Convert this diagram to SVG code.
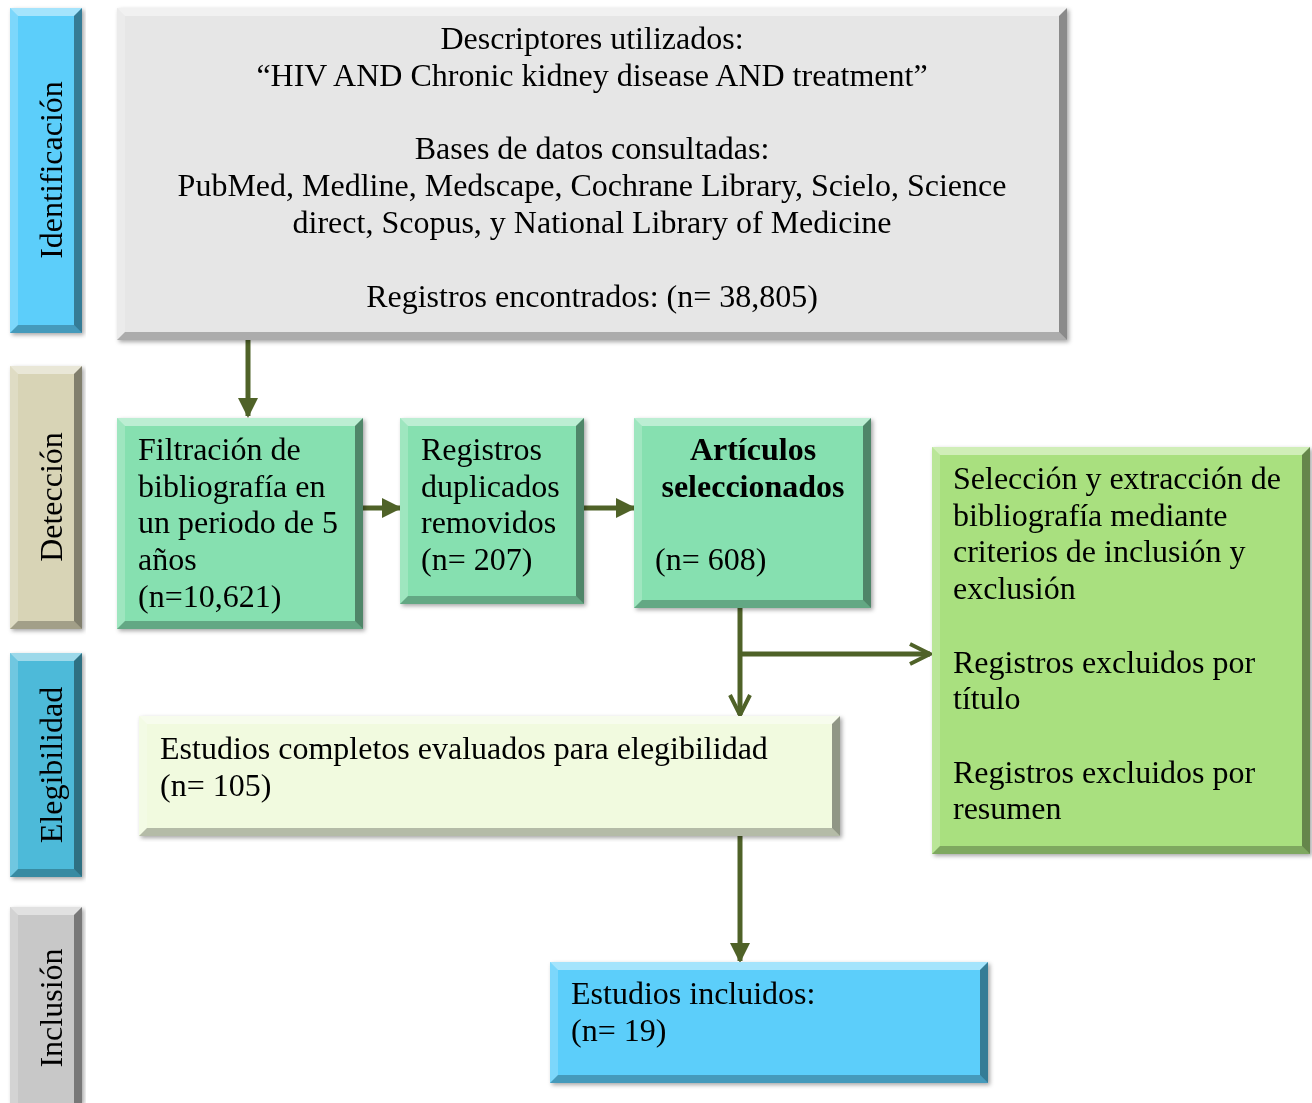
<svg xmlns="http://www.w3.org/2000/svg" width="1312" height="1103" viewBox="0 0 1312 1103">
<defs>
<filter id="sh" x="-5%" y="-5%" width="110%" height="110%"><feDropShadow dx="2" dy="2" stdDeviation="2" flood-color="#000" flood-opacity="0.35"/></filter>
<marker id="ah" viewBox="0 0 10 10" refX="9" refY="5" markerWidth="4" markerHeight="4" orient="auto" markerUnits="strokeWidth"><path d="M0,0 L10,5 L0,10 Z" fill="#4F6228"/></marker>
<marker id="oh" viewBox="0 0 10 10" refX="9" refY="5" markerWidth="5" markerHeight="5" orient="auto" markerUnits="strokeWidth"><path d="M1,1 L9,5 L1,9" fill="none" stroke="#4F6228" stroke-width="1.6"/></marker>
</defs>
<style>
text{font-family:"Liberation Serif","Times New Roman",serif;font-size:32px;fill:#000}
.c{text-anchor:middle}
.b{font-weight:bold}
.hl{fill:#fff;opacity:.45}
.ll{fill:#fff;opacity:.2}
.rd{fill:#000;opacity:.4}
.bd{fill:#000;opacity:.25}
.cn{fill:none;stroke:#4F6228;stroke-width:5}
</style>
<rect width="1312" height="1103" fill="#fff"/>

<g id="side-identificacion" filter="url(#sh)">
<rect x="10" y="8" width="72" height="325" fill="#5BCEFA"/>
<polygon class="hl" points="10,8 82,8 74,16 18,16"/><polygon class="ll" points="10,8 18,16 18,325 10,333"/><polygon class="rd" points="82,8 82,333 74,325 74,16"/><polygon class="bd" points="10,333 18,325 74,325 82,333"/>
<text class="c" transform="translate(62,170) rotate(-90)">Identificación</text>
</g>
<g id="side-deteccion" filter="url(#sh)">
<rect x="10" y="366" width="72" height="263" fill="#D8D4B6"/>
<polygon class="hl" points="10,366 82,366 74,374 18,374"/><polygon class="ll" points="10,366 18,374 18,621 10,629"/><polygon class="rd" points="82,366 82,629 74,621 74,374"/><polygon class="bd" points="10,629 18,621 74,621 82,629"/>
<text class="c" transform="translate(62,497) rotate(-90)">Detección</text>
</g>
<g id="side-elegibilidad" filter="url(#sh)">
<rect x="10" y="653" width="72" height="224" fill="#4DBAD9"/>
<polygon class="hl" points="10,653 82,653 74,661 18,661"/><polygon class="ll" points="10,653 18,661 18,869 10,877"/><polygon class="rd" points="82,653 82,877 74,869 74,661"/><polygon class="bd" points="10,877 18,869 74,869 82,877"/>
<text class="c" transform="translate(62,765) rotate(-90)">Elegibilidad</text>
</g>
<g id="side-inclusion" filter="url(#sh)">
<rect x="10" y="907" width="72" height="196" fill="#C8C8C8"/>
<polygon class="hl" points="10,907 82,907 74,915 18,915"/><polygon class="ll" points="10,907 18,915 18,1103 10,1103"/><polygon class="rd" points="82,907 82,1103 74,1103 74,915"/>
<text class="c" transform="translate(62,1008) rotate(-90)">Inclusión</text>
</g>

<g id="connectors">
<line class="cn" x1="248" y1="340" x2="248" y2="416" marker-end="url(#ah)"/>
<line class="cn" x1="363" y1="508" x2="400" y2="508" marker-end="url(#ah)"/>
<line class="cn" x1="584" y1="508" x2="634" y2="508" marker-end="url(#ah)"/>
<line class="cn" x1="740" y1="608" x2="740" y2="715" marker-end="url(#oh)"/>
<line class="cn" x1="740" y1="654" x2="930" y2="654" marker-end="url(#oh)"/>
<line class="cn" x1="740" y1="836" x2="740" y2="961" marker-end="url(#ah)"/>
</g>

<g id="box-identificacion" filter="url(#sh)">
<rect x="117" y="8" width="950" height="332" fill="#E6E6E6"/>
<polygon class="hl" points="117,8 1067,8 1059,16 125,16"/><polygon class="ll" points="117,8 125,16 125,332 117,340"/><polygon class="rd" points="1067,8 1067,340 1059,332 1059,16"/><polygon class="bd" points="117,340 125,332 1059,332 1067,340"/>
<text class="c" x="592" y="49">Descriptores utilizados:</text>
<text class="c" x="592" y="86">“HIV AND Chronic kidney disease AND treatment”</text>
<text class="c" x="592" y="159">Bases de datos consultadas:</text>
<text class="c" x="592" y="196">PubMed, Medline, Medscape, Cochrane Library, Scielo, Science</text>
<text class="c" x="592" y="233">direct, Scopus, y National Library of Medicine</text>
<text class="c" x="592" y="307">Registros encontrados: (n= 38,805)</text>
</g>

<g id="box-filtracion" filter="url(#sh)">
<rect x="117" y="418" width="246" height="211" fill="#86E0B0"/>
<polygon class="hl" points="117,418 363,418 355,426 125,426"/><polygon class="ll" points="117,418 125,426 125,621 117,629"/><polygon class="rd" points="363,418 363,629 355,621 355,426"/><polygon class="bd" points="117,629 125,621 355,621 363,629"/>
<text x="138" y="460">Filtración de</text>
<text x="138" y="497">bibliografía en</text>
<text x="138" y="533">un periodo de 5</text>
<text x="138" y="570">años</text>
<text x="138" y="607">(n=10,621)</text>
</g>

<g id="box-duplicados" filter="url(#sh)">
<rect x="400" y="418" width="184" height="186" fill="#86E0B0"/>
<polygon class="hl" points="400,418 584,418 576,426 408,426"/><polygon class="ll" points="400,418 408,426 408,596 400,604"/><polygon class="rd" points="584,418 584,604 576,596 576,426"/><polygon class="bd" points="400,604 408,596 576,596 584,604"/>
<text x="421" y="460">Registros</text>
<text x="421" y="497">duplicados</text>
<text x="421" y="533">removidos</text>
<text x="421" y="570">(n= 207)</text>
</g>

<g id="box-articulos" filter="url(#sh)">
<rect x="634" y="418" width="237" height="190" fill="#86E0B0"/>
<polygon class="hl" points="634,418 871,418 863,426 642,426"/><polygon class="ll" points="634,418 642,426 642,600 634,608"/><polygon class="rd" points="871,418 871,608 863,600 863,426"/><polygon class="bd" points="634,608 642,600 863,600 871,608"/>
<text class="c b" x="753" y="460">Artículos</text>
<text class="c b" x="753" y="497">seleccionados</text>
<text x="655" y="570">(n= 608)</text>
</g>

<g id="box-exclusion" filter="url(#sh)">
<rect x="932" y="447" width="378" height="407" fill="#A9E07F"/>
<polygon class="hl" points="932,447 1310,447 1302,455 940,455"/><polygon class="ll" points="932,447 940,455 940,846 932,854"/><polygon class="rd" points="1310,447 1310,854 1302,846 1302,455"/><polygon class="bd" points="932,854 940,846 1302,846 1310,854"/>
<text x="953" y="489">Selección y extracción de</text>
<text x="953" y="526">bibliografía mediante</text>
<text x="953" y="562">criterios de inclusión y</text>
<text x="953" y="599">exclusión</text>
<text x="953" y="673">Registros excluidos por</text>
<text x="953" y="709">título</text>
<text x="953" y="783">Registros excluidos por</text>
<text x="953" y="819">resumen</text>
</g>

<g id="box-elegibilidad" filter="url(#sh)">
<rect x="139" y="716" width="701" height="120" fill="#F1FADF"/>
<polygon class="hl" points="139,716 840,716 832,724 147,724"/><polygon class="ll" points="139,716 147,724 147,828 139,836"/><polygon class="rd" points="840,716 840,836 832,828 832,724"/><polygon class="bd" points="139,836 147,828 832,828 840,836"/>
<text x="160" y="759">Estudios completos evaluados para elegibilidad</text>
<text x="160" y="796">(n= 105)</text>
</g>

<g id="box-incluidos" filter="url(#sh)">
<rect x="550" y="962" width="438" height="121" fill="#5BCEFA"/>
<polygon class="hl" points="550,962 988,962 980,970 558,970"/><polygon class="ll" points="550,962 558,970 558,1075 550,1083"/><polygon class="rd" points="988,962 988,1083 980,1075 980,970"/><polygon class="bd" points="550,1083 558,1075 980,1075 988,1083"/>
<text x="571" y="1004">Estudios incluidos:</text>
<text x="571" y="1041">(n= 19)</text>
</g>
</svg>
